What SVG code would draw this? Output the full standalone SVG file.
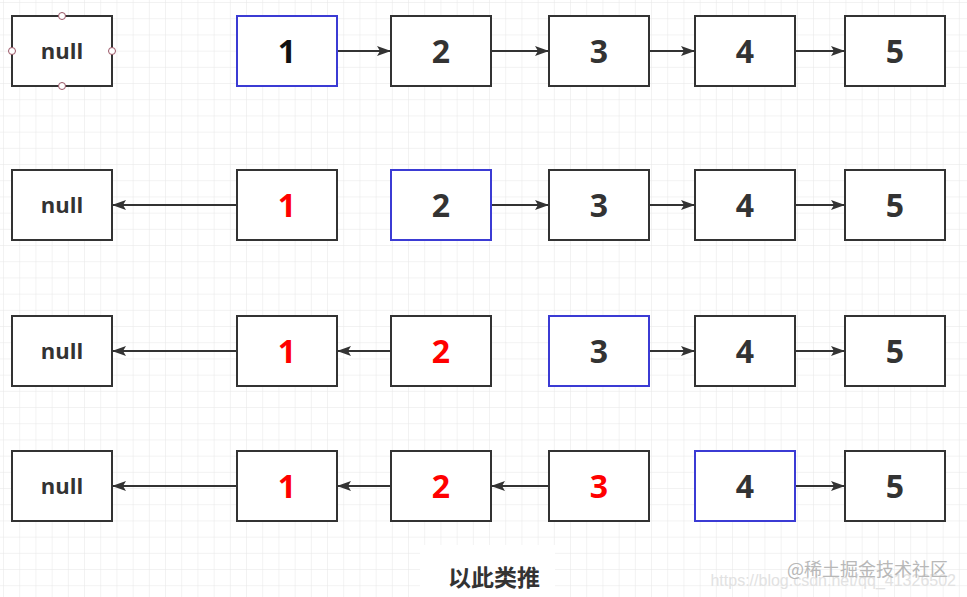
<svg xmlns="http://www.w3.org/2000/svg" width="967" height="597" viewBox="0 0 967 597">
<defs>
<pattern id="grid" width="16.2" height="16.2" patternUnits="userSpaceOnUse" x="4" y="3">
<path d="M16.2 0V16.2H0" fill="none" stroke="#e6e6e6" stroke-width="1"/>
</pattern>
<marker id="ah" markerWidth="14" markerHeight="10" refX="13" refY="5" orient="auto" markerUnits="userSpaceOnUse">
<path d="M0 0L14 5L0 10L3 5Z" fill="#333"/>
</marker>
</defs>
<style>
.box{fill:#fff;stroke:#333;stroke-width:2}
.sel{fill:#fff;stroke:#3b3bd4;stroke-width:2}
.num{font-family:"Open Sans","Liberation Sans",Arial,sans-serif;font-weight:bold;font-size:32px;fill:#333;text-anchor:middle;dominant-baseline:central}
.red{fill:#f00}
.blk{fill:#111}
.nul{font-family:"Open Sans","Liberation Sans",Arial,sans-serif;font-weight:bold;font-size:22px;fill:#333;text-anchor:middle;dominant-baseline:central}
.con line{stroke:#333;stroke-width:2;marker-end:url(#ah)}
.pt{fill:#fff;stroke:#9a5565;stroke-width:1}
</style>
<rect width="967" height="597" fill="#fff"/>
<rect width="967" height="597" fill="url(#grid)"/>

<g id="row1">
<g id="r1-null"><rect class="box" x="12" y="16" width="100" height="70"/><text class="nul" x="62" y="50">null</text>
<circle class="pt" cx="62" cy="16" r="3.5"/><circle class="pt" cx="62" cy="86" r="3.5"/><circle class="pt" cx="12" cy="51" r="3.5"/><circle class="pt" cx="112" cy="51" r="3.5"/></g>
<g id="r1-n1"><rect class="sel" x="237" y="16" width="100" height="70"/><text class="num blk" x="287" y="50">1</text></g>
<g id="r1-n2"><rect class="box" x="391" y="16" width="100" height="70"/><text class="num" x="441" y="50">2</text></g>
<g id="r1-n3"><rect class="box" x="549" y="16" width="100" height="70"/><text class="num" x="599" y="50">3</text></g>
<g id="r1-n4"><rect class="box" x="695" y="16" width="100" height="70"/><text class="num" x="745" y="50">4</text></g>
<g id="r1-n5"><rect class="box" x="845" y="16" width="100" height="70"/><text class="num" x="895" y="50">5</text></g>
</g>

<g id="row2">
<g id="r2-null"><rect class="box" x="12" y="170" width="100" height="70"/><text class="nul" x="62" y="204">null</text></g>
<g id="r2-n1"><rect class="box" x="237" y="170" width="100" height="70"/><text class="num red" x="287" y="204">1</text></g>
<g id="r2-n2"><rect class="sel" x="391" y="170" width="100" height="70"/><text class="num" x="441" y="204">2</text></g>
<g id="r2-n3"><rect class="box" x="549" y="170" width="100" height="70"/><text class="num" x="599" y="204">3</text></g>
<g id="r2-n4"><rect class="box" x="695" y="170" width="100" height="70"/><text class="num" x="745" y="204">4</text></g>
<g id="r2-n5"><rect class="box" x="845" y="170" width="100" height="70"/><text class="num" x="895" y="204">5</text></g>
</g>

<g id="row3">
<g id="r3-null"><rect class="box" x="12" y="316" width="100" height="70"/><text class="nul" x="62" y="350">null</text></g>
<g id="r3-n1"><rect class="box" x="237" y="316" width="100" height="70"/><text class="num red" x="287" y="350">1</text></g>
<g id="r3-n2"><rect class="box" x="391" y="316" width="100" height="70"/><text class="num red" x="441" y="350">2</text></g>
<g id="r3-n3"><rect class="sel" x="549" y="316" width="100" height="70"/><text class="num" x="599" y="350">3</text></g>
<g id="r3-n4"><rect class="box" x="695" y="316" width="100" height="70"/><text class="num" x="745" y="350">4</text></g>
<g id="r3-n5"><rect class="box" x="845" y="316" width="100" height="70"/><text class="num" x="895" y="350">5</text></g>
</g>

<g id="row4">
<g id="r4-null"><rect class="box" x="12" y="451" width="100" height="70"/><text class="nul" x="62" y="485">null</text></g>
<g id="r4-n1"><rect class="box" x="237" y="451" width="100" height="70"/><text class="num red" x="287" y="485">1</text></g>
<g id="r4-n2"><rect class="box" x="391" y="451" width="100" height="70"/><text class="num red" x="441" y="485">2</text></g>
<g id="r4-n3"><rect class="box" x="549" y="451" width="100" height="70"/><text class="num red" x="599" y="485">3</text></g>
<g id="r4-n4"><rect class="sel" x="695" y="451" width="100" height="70"/><text class="num" x="745" y="485">4</text></g>
<g id="r4-n5"><rect class="box" x="845" y="451" width="100" height="70"/><text class="num" x="895" y="485">5</text></g>
</g>

<g id="connectors" class="con">
<line x1="338" y1="51" x2="390" y2="51"/>
<line x1="492" y1="51" x2="548" y2="51"/>
<line x1="650" y1="51" x2="694" y2="51"/>
<line x1="796" y1="51" x2="844" y2="51"/>

<line x1="236" y1="205" x2="113" y2="205"/>
<line x1="492" y1="205" x2="548" y2="205"/>
<line x1="650" y1="205" x2="694" y2="205"/>
<line x1="796" y1="205" x2="844" y2="205"/>

<line x1="236" y1="351" x2="113" y2="351"/>
<line x1="390" y1="351" x2="338" y2="351"/>
<line x1="650" y1="351" x2="694" y2="351"/>
<line x1="796" y1="351" x2="844" y2="351"/>

<line x1="236" y1="486" x2="113" y2="486"/>
<line x1="390" y1="486" x2="338" y2="486"/>
<line x1="548" y1="486" x2="492" y2="486"/>
<line x1="796" y1="486" x2="844" y2="486"/>
</g>

<g id="caption">
<rect x="420" y="545" width="135" height="52" fill="#fff"/>
<text x="494" y="586" font-family="'Noto Sans CJK SC',sans-serif" font-weight="bold" font-size="23" fill="#333" text-anchor="middle">以此类推</text>
</g>
<g id="watermark">
<text x="956" y="586" font-family="'Liberation Sans',Arial,sans-serif" font-size="16" fill="#e2e2e2" text-anchor="end">https://blog.csdn.net/qq_41326502</text>
<text x="948" y="576" font-family="'Noto Sans CJK SC',sans-serif" font-size="18" fill="#b8b8b8" text-anchor="end">@稀土掘金技术社区</text>
</g>
</svg>
